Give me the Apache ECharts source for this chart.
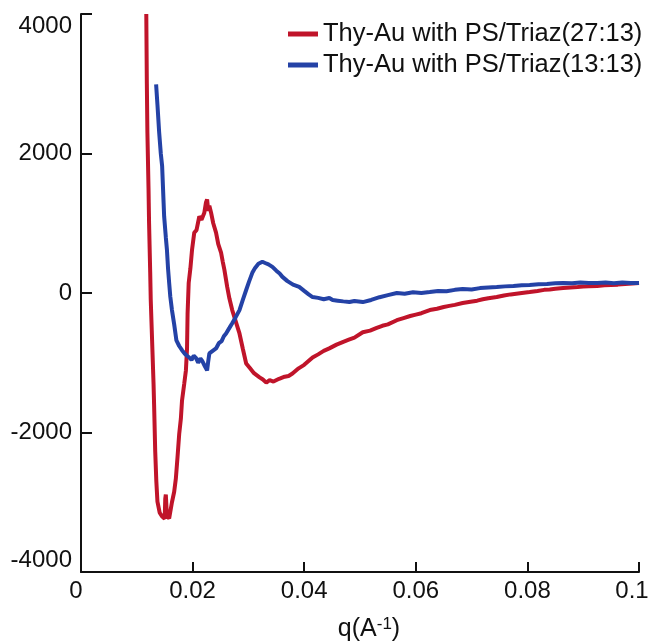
<!DOCTYPE html>
<html>
<head>
<meta charset="utf-8">
<script src="https://cdn.jsdelivr.net/npm/echarts@6/dist/echarts.min.js"></script>
<style>html,body{margin:0;padding:0;background:#fff}#c{width:650px;height:641px}</style>
</head>
<body>
<div id="c"></div>
<script>
const seriesNames = ['Thy-Au with PS/Triaz(27:13)', 'Thy-Au with PS/Triaz(13:13)'];
const xTicks = [0, 0.02, 0.04, 0.06, 0.08, 0.1];
const yTicks = [-4000, -2000, 0, 2000, 4000];

// q, intensity  (27:13)
const red = [
 [0.0117,4000],[0.0118,3000],[0.0119,2300],[0.0121,1500],[0.0122,1000],[0.0124,300],[0.0125,-100],
 [0.0128,-820],[0.0130,-1300],[0.0131,-1600],[0.0133,-2270],[0.0135,-2700],[0.0137,-2990],[0.0141,-3150],
 [0.0145,-3200],[0.0150,-3235],[0.0151,-2950],[0.0152,-2890],[0.0154,-3200],[0.0158,-3230],[0.0163,-3000],
 [0.0167,-2850],[0.0170,-2660],[0.0173,-2350],[0.0176,-2020],[0.0179,-1800],[0.0181,-1545],[0.0185,-1300],
 [0.0188,-1110],[0.0190,-800],[0.0191,-300],[0.0193,145],[0.0196,350],[0.0199,620],[0.0203,866],
 [0.0207,900],[0.0212,1097],[0.0216,1050],[0.0221,1150],[0.0224,1300],[0.0226,1343],[0.0228,1180],
 [0.0230,1250],[0.0233,1155],[0.0237,1000],[0.0242,866],[0.0246,700],[0.0251,578],[0.0254,450],
 [0.0257,332],[0.0262,87],[0.0266,-80],[0.0271,-245],[0.0277,-400],[0.0284,-580],[0.0290,-800],
 [0.0296,-1010],[0.0303,-1080],[0.0310,-1150],[0.0320,-1210],[0.0326,-1240],[0.0332,-1285],[0.0338,-1250],
 [0.0345,-1270],[0.0355,-1230],[0.0365,-1200],[0.0372,-1190],[0.0379,-1155],[0.0390,-1080],[0.0400,-1030],
 [0.0415,-925],[0.0425,-880],[0.0435,-830],[0.0445,-794],[0.0458,-740],[0.0470,-700],[0.0480,-670],
 [0.0490,-640],[0.0505,-563],[0.0518,-540],[0.0530,-500],[0.0540,-470],[0.0550,-450],[0.0566,-390],
 [0.0578,-360],[0.0590,-330],[0.0600,-310],[0.0610,-290],[0.0625,-245],[0.0638,-225],[0.0650,-200],
 [0.0660,-185],[0.0670,-170],[0.0684,-144],[0.0698,-125],[0.0710,-110],[0.0720,-90],[0.0730,-75],
 [0.0745,-58],[0.0758,-35],[0.0770,-20],[0.0780,-10],[0.0790,0],[0.0804,14],[0.0818,30],[0.0830,45],
 [0.0840,50],[0.0850,60],[0.0864,72],[0.0877,80],[0.0890,85],[0.0900,92],[0.0910,95],[0.0925,101],
 [0.0938,110],[0.0950,115],[0.0962,120],[0.0975,130],[0.0988,135],[0.1000,144]
];

// q, intensity  (13:13)
const blue = [
 [0.01346,2990],[0.0137,2700],[0.0140,2310],[0.0143,2000],[0.01454,1820],[0.0148,1300],[0.0149,1100],
 [0.0152,800],[0.0154,620],[0.0156,350],[0.0158,145],[0.0160,-50],[0.0163,-245],[0.0167,-450],
 [0.0171,-680],[0.0176,-760],[0.0181,-820],[0.0186,-870],[0.0190,-900],[0.0194,-925],[0.0198,-960],
 [0.0202,-900],[0.0206,-930],[0.0210,-1000],[0.0214,-940],[0.0217,-970],[0.0222,-1050],[0.0226,-1110],
 [0.0228,-980],[0.0230,-866],[0.0236,-830],[0.0242,-795],[0.0247,-720],[0.0252,-690],[0.0256,-620],
 [0.0260,-580],[0.0266,-500],[0.0271,-433],[0.0277,-350],[0.0284,-245],[0.0290,-100],[0.0296,43],
 [0.0301,160],[0.0307,289],[0.0312,360],[0.0318,420],[0.0325,448],[0.0330,430],[0.0336,410],
 [0.0343,375],[0.0350,320],[0.0356,280],[0.0361,231],[0.0370,170],[0.0380,120],[0.0391,87],
 [0.0400,30],[0.0408,-20],[0.0415,-58],[0.0425,-70],[0.0435,-90],[0.0445,-72],[0.0451,-101],
 [0.0460,-110],[0.0470,-120],[0.0481,-130],[0.0490,-115],[0.0505,-130],[0.0520,-100],[0.0535,-60],
 [0.0550,-30],[0.0566,0],[0.0580,-10],[0.0595,10],[0.0610,0],[0.0625,14],[0.0640,30],[0.0655,25],
 [0.0670,45],[0.0684,58],[0.0700,50],[0.0715,70],[0.0730,80],[0.0745,87],[0.0760,95],[0.0775,100],
 [0.0790,110],[0.0804,115],[0.0820,125],[0.0835,130],[0.0850,140],[0.0864,144],[0.0880,140],
 [0.0895,150],[0.0910,145],[0.0925,144],[0.0940,150],[0.0955,140],[0.0970,150],[0.0985,145],[0.1000,144]
];

const colors = ['#c0142a', '#2442a6'];
const chart = echarts.init(document.getElementById('c'), null, {renderer: 'canvas'});
const font = 'Liberation Sans, Arial, sans-serif';
chart.setOption({
  animation: false,
  backgroundColor: '#fff',
  grid: {left: 81, right: 11, top: 14, bottom: 69, containLabel: false, outerBoundsMode: 'none'},
  legend: {
    orient: 'vertical', left: 283, top: 15, itemGap: 3,
    itemWidth: 30, itemHeight: 5, icon: 'rect',
    textStyle: {fontFamily: font, fontSize: 25.5, color: '#111', lineHeight: 28},
    data: seriesNames
  },
  xAxis: {
    type: 'value', min: xTicks[0], max: xTicks[xTicks.length - 1], interval: 0.02,
    name: 'q(A{sup|-1})', nameLocation: 'middle', nameGap: 44,
    nameTextStyle: {fontFamily: font, fontSize: 25, color: '#111', padding: [0, 0, 0, 18],
      rich: {sup: {fontFamily: font, fontSize: 17, color: '#111', verticalAlign: 'top', padding: [0,0,10,0]}}},
    axisLine: {show: true, onZero: false, lineStyle: {color: '#111', width: 2}},
    axisTick: {show: true, inside: true, length: 10, lineStyle: {color: '#111', width: 2}},
    axisLabel: {fontFamily: font, fontSize: 24, color: '#111', margin: 7,
      formatter: v => (Math.abs(v) < 1e-9 ? '{z|0}' : (Math.abs(v - 0.1) < 1e-9 ? '{m|0.1}' : String(+v.toFixed(2)))),
      rich: {
        z: {fontFamily: font, fontSize: 24, color: '#111', padding: [0, 10, 0, 0]},
        m: {fontFamily: font, fontSize: 24, color: '#111', padding: [0, 14, 0, 0]}
      }},
    splitLine: {show: false}
  },
  yAxis: {
    type: 'value', min: yTicks[0], max: yTicks[yTicks.length - 1], interval: 2000,
    name: 'intensity, a.u.', nameLocation: 'middle', nameGap: 40, nameRotate: 90,
    nameTextStyle: {fontFamily: font, fontSize: 24, color: '#111', padding: [0, 0, 0, 20]},
    axisLine: {show: true, onZero: false, lineStyle: {color: '#111', width: 2}},
    axisTick: {show: true, inside: true, length: 11, lineStyle: {color: '#111', width: 2}},
    axisLabel: {fontFamily: font, fontSize: 24, color: '#111', margin: 9,
      verticalAlignMaxLabel: 'top', verticalAlignMinLabel: 'bottom',
      formatter: v => String(Math.round(v))},
    splitLine: {show: false}
  },
  series: [
    {name: seriesNames[0], type: 'line', data: red, showSymbol: false, clip: true,
     lineStyle: {color: colors[0], width: 4}, itemStyle: {color: colors[0]}},
    {name: seriesNames[1], type: 'line', data: blue, showSymbol: false, clip: true,
     lineStyle: {color: colors[1], width: 4}, itemStyle: {color: colors[1]}}
  ]
});
</script>
</body>
</html>
